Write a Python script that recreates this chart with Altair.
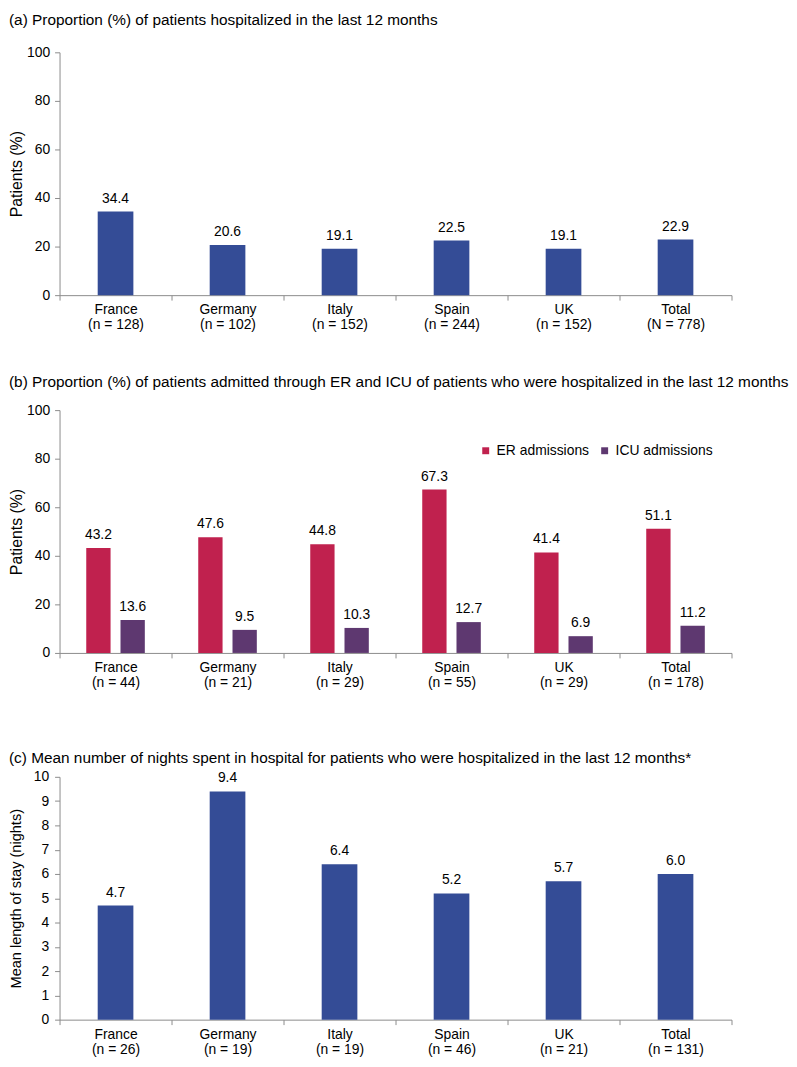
import altair as alt
import pandas as pd

countries = ["France", "Germany", "Italy", "Spain", "UK", "Total"]

n_a = ["n = 128", "n = 102", "n = 152", "n = 244", "n = 152", "N = 778"]
hospitalized = [34.4, 20.6, 19.1, 22.5, 19.1, 22.9]

n_b = ["n = 44", "n = 21", "n = 29", "n = 55", "n = 29", "n = 178"]
er_admissions = [43.2, 47.6, 44.8, 67.3, 41.4, 51.1]
icu_admissions = [13.6, 9.5, 10.3, 12.7, 6.9, 11.2]
series_b = ["ER admissions", "ICU admissions"]

n_c = ["n = 26", "n = 19", "n = 19", "n = 46", "n = 21", "n = 131"]
nights = [4.7, 9.4, 6.4, 5.2, 5.7, 6.0]

titles = [
    "(a) Proportion (%) of patients hospitalized in the last 12 months",
    "(b) Proportion (%) of patients admitted through ER and ICU of patients who were hospitalized in the last 12 months",
    "(c) Mean number of nights spent in hospital for patients who were hospitalized in the last 12 months*",
]

BLUE = "#344C96"
RED = "#C0214E"
PURPLE = "#5E3870"
FONT = "Liberation Sans"
W = 678
H = 245


def labels(ns):
    return [f"{c}|({n})" for c, n in zip(countries, ns)]


def xenc(order):
    return alt.X(
        "label:N",
        sort=order,
        title=None,
        scale=alt.Scale(paddingInner=0, paddingOuter=0),
        axis=alt.Axis(
            labelExpr="split(datum.label, '|')",
            labelAngle=0,
            tickBand="extent",
            labelPadding=3,
            labelLineHeight=15,
        ),
    )


def yenc(title, maxv, step, tfs, tp, lp):
    return alt.Y(
        "v:Q",
        title=title,
        scale=alt.Scale(domain=[0, maxv], nice=False),
        axis=alt.Axis(
            values=list(range(0, maxv + 1, step)),
            grid=False,
            titlePadding=tp,
            labelPadding=lp,
            titleFontSize=tfs,
            labelOverlap=False,
        ),
    )


def title_chart(t, h, baseline_y):
    return (
        alt.Chart(pd.DataFrame({"t": [t]}))
        .mark_text(align="left", baseline="alphabetic", fontSize=15.5, font=FONT, color="#000000")
        .encode(x=alt.value(-51), y=alt.value(baseline_y), text="t:N")
        .properties(width=W, height=h)
    )


# Panel (a)
la = labels(n_a)
ya = yenc("Patients (%)", 100, 20, 16, 2, 5)
df_a = pd.DataFrame({"label": la, "v": hospitalized})
base_a = alt.Chart(df_a)
bars_a = base_a.mark_bar(color=BLUE, size=36).encode(x=xenc(la), y=ya)
text_a = base_a.mark_text(dy=-13, fontSize=14, font=FONT).encode(
    x=xenc(la), y=ya, text=alt.Text("v:Q", format=".1f"))
panel_a = (bars_a + text_a).properties(width=W, height=H)

# Panel (b)
lb = labels(n_b)
yb = yenc("Patients (%)", 100, 20, 16, 2, 5)
rows = []
for lab, e, i in zip(lb, er_admissions, icu_admissions):
    rows.append({"label": lab, "series": series_b[0], "v": e})
    rows.append({"label": lab, "series": series_b[1], "v": i})
df_b = pd.DataFrame(rows)
base_b = alt.Chart(df_b)
xoff = alt.XOffset("series:N", sort=series_b, scale=alt.Scale(paddingInner=0.29, paddingOuter=0.78))
bars_b = base_b.mark_bar().encode(
    x=xenc(lb),
    xOffset=xoff,
    y=yb,
    color=alt.Color(
        "series:N",
        sort=series_b,
        scale=alt.Scale(domain=series_b, range=[RED, PURPLE]),
        legend=alt.Legend(
            title=None, orient="none", legendX=423, legendY=435, direction="horizontal",
            symbolType="square", symbolSize=49, labelFontSize=14, labelFont=FONT,
            columnPadding=8, symbolStrokeWidth=0, labelColor="#000000",
        ),
    ),
)
text_b = base_b.mark_text(dy=-13, fontSize=14, font=FONT).encode(
    x=xenc(lb), xOffset=xoff, y=yb, text=alt.Text("v:Q", format=".1f"))
panel_b = (bars_b + text_b).properties(width=W, height=H)

# Panel (c)
lc = labels(n_c)
yc = yenc("Mean length of stay (nights)", 10, 1, 14.7, 10, 6)
df_c = pd.DataFrame({"label": lc, "v": nights})
base_c = alt.Chart(df_c)
bars_c = base_c.mark_bar(color=BLUE, size=36).encode(x=xenc(lc), y=yc)
text_c = base_c.mark_text(dy=-13, fontSize=14, font=FONT).encode(
    x=xenc(lc), y=yc, text=alt.Text("v:Q", format=".1f"))
panel_c = (bars_c + text_c).properties(width=W, height=H)

chart = (
    alt.concat(
        title_chart(titles[0], 33, 12),
        panel_a,
        title_chart(titles[1], 72, 56),
        panel_b,
        title_chart(titles[2], 81, 74),
        panel_c,
        columns=1, spacing=0, align="none",
    )
    .properties(padding=0)
    .configure_view(stroke=None)
    .configure_axis(
        domainColor="#8c8c8c",
        tickColor="#8c8c8c",
        tickSize=5,
        labelColor="#000000",
        labelFontSize=14,
        labelFont=FONT,
        titleFont=FONT,
        titleFontSize=14,
        titleFontWeight="normal",
        titleColor="#000000",
    )
)

chart.save("out.html", embed_options={"renderer": "svg", "actions": False})
